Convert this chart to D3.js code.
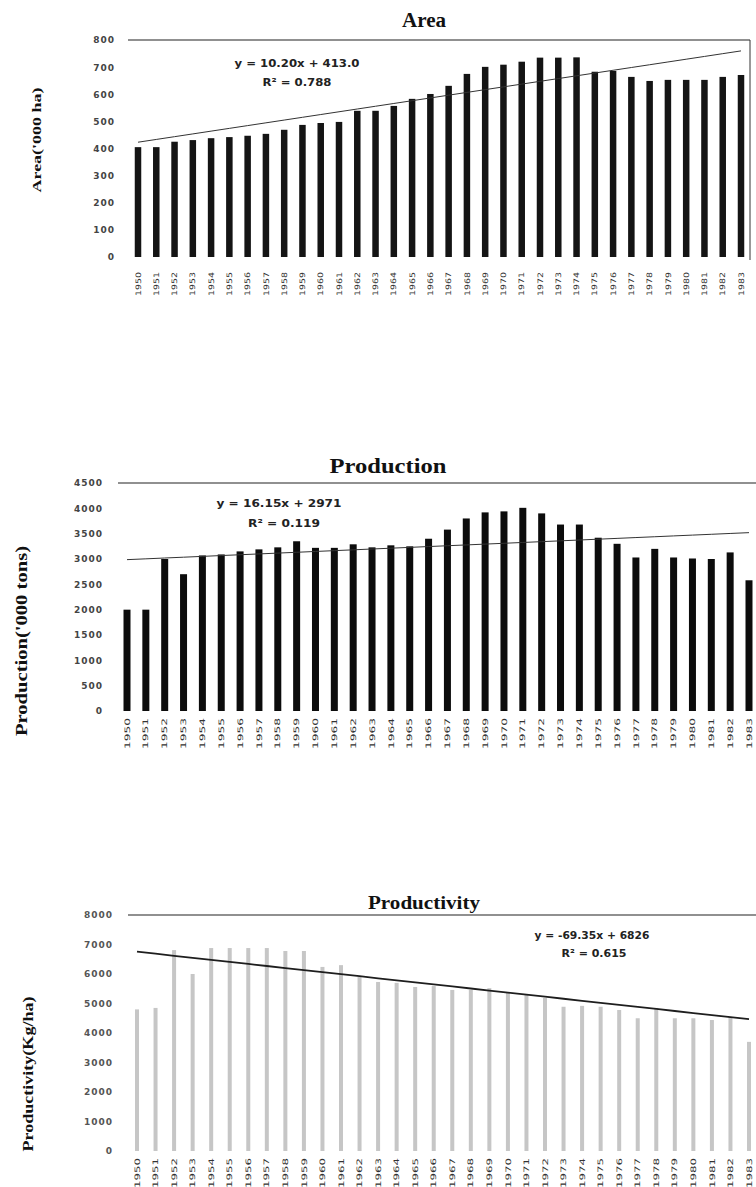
<!DOCTYPE html>
<html><head><meta charset="utf-8">
<script src="https://cdn.jsdelivr.net/npm/d3@7"></script>
<style>body{margin:0;background:#fff}</style>
</head><body>
<svg id="c" width="756" height="1187"></svg>
<script>
const years = [1950,1951,1952,1953,1954,1955,1956,1957,1958,1959,1960,1961,1962,1963,1964,1965,1966,1967,1968,1969,1970,1971,1972,1973,1974,1975,1976,1977,1978,1979,1980,1981,1982,1983];
const area = [405,405,425,431,438,442,447,454,469,487,494,498,539,539,557,583,601,631,675,701,709,720,735,735,736,683,686,664,649,653,653,653,664,671];
const production = [2000,2000,3000,2700,3070,3090,3150,3190,3230,3350,3220,3220,3290,3230,3270,3250,3400,3580,3800,3920,3940,4010,3900,3680,3680,3420,3300,3030,3200,3030,3010,3000,3130,2580];
const productivity = [4800,4850,6810,6000,6880,6880,6880,6880,6780,6780,6240,6300,5900,5730,5700,5560,5590,5460,5460,5520,5360,5290,5190,4890,4920,4890,4780,4500,4850,4500,4500,4440,4540,3700];
const areaTicks = [0,100,200,300,400,500,600,700,800];
const productionTicks = [0,500,1000,1500,2000,2500,3000,3500,4000,4500];
const productivityTicks = [0,1000,2000,3000,4000,5000,6000,7000,8000];
const titles = ["Area","Production","Productivity"];
const yLabels = ["Area('000 ha)","Production('000 tons)","Productivity(Kg/ha)"];
const trendSlope = [10.20,16.15,-69.35];
const trendIntercept = [413.0,2971,6826];
const eqTexts = ["y = 10.20x + 413.0","y = 16.15x + 2971","y = -69.35x + 6826"];
const r2Texts = ["R² = 0.788","R² = 0.119","R² = 0.615"];

const svg = d3.select("#c");

const panels = [
  {values: area, ticks: areaTicks, max: 800, yR: [257,40], xR: [138,741], barW: 6.5, barColor: "#141414",
   line: [128,750], rightBorder: true, tickX: 115, tickColor: "#444",
   title: {x: 424, y: 27, size: 20, len: 44},
   ylab: {x: 36, y: 140, size: 13, len: 105},
   xlab: {top: 272, len: 24},
   eq: {x: 297, y: 67, len: 125}, r2: {x: 297, y: 86, len: 69},
   trendColor: "#333", trendW: 1},
  {values: production, ticks: productionTicks, max: 4500, yR: [711,483], xR: [127,749], barW: 7, barColor: "#0c0c0c",
   line: [118,756], rightBorder: false, tickX: 103, tickColor: "#444",
   title: {x: 388, y: 473, size: 21, len: 117},
   ylab: {x: 21, y: 641, size: 16, len: 190},
   xlab: {top: 718, len: 31},
   eq: {x: 279, y: 507, len: 125}, r2: {x: 284, y: 527, len: 72},
   trendColor: "#333", trendW: 1},
  {values: productivity, ticks: productivityTicks, max: 8000, yR: [1151,915], xR: [137,749], barW: 4, barColor: "#c6c6c6",
   line: [128,756], rightBorder: false, tickX: 113, tickColor: "#555",
   title: {x: 424, y: 909, size: 18, len: 112},
   ylab: {x: 28, y: 1074, size: 14, len: 155},
   xlab: {top: 1158, len: 30},
   eq: {x: 592, y: 939, len: 115}, r2: {x: 594, y: 957, len: 65},
   trendColor: "#1e1e1e", trendW: 1.8}
];

panels.forEach((p, k) => {
  const g = svg.append("g");
  const x = d3.scalePoint().domain(years).range(p.xR);
  const y = d3.scaleLinear().domain([0, p.max]).range(p.yR);

  g.append("line").attr("x1", p.line[0]).attr("x2", p.line[1])
    .attr("y1", y(p.max)).attr("y2", y(p.max)).attr("stroke", "#222").attr("stroke-width", 1.2);
  if (p.rightBorder) {
    g.append("line").attr("x1", p.line[1]).attr("x2", p.line[1])
      .attr("y1", y(p.max)).attr("y2", y(0) + 3).attr("stroke", "#333").attr("stroke-width", 1);
  }

  const ax = d3.axisLeft(y).tickValues(p.ticks).tickSize(0).tickPadding(0).tickFormat(d3.format("d"));
  const ag = g.append("g").attr("transform", `translate(${p.tickX},0)`).call(ax);
  ag.select(".domain").remove();
  ag.selectAll("text").attr("font-family", "DejaVu Sans").attr("font-size", 9)
    .attr("font-weight", "bold").attr("fill", p.tickColor).attr("letter-spacing", 1)
    .attr("text-anchor", "end");

  g.selectAll("rect.bar").data(p.values).enter().append("rect")
    .attr("class", "bar")
    .attr("x", (d, i) => x(years[i]) - p.barW / 2)
    .attr("width", p.barW)
    .attr("y", d => y(d))
    .attr("height", d => y(0) - y(d))
    .attr("fill", p.barColor);

  const trend = years.map((yr, i) => [x(yr), y(trendIntercept[k] + trendSlope[k] * (i + 1))]);
  g.append("path").attr("d", d3.line()(trend)).attr("fill", "none")
    .attr("stroke", p.trendColor).attr("stroke-width", p.trendW);

  g.selectAll("text.xl").data(years).enter().append("text")
    .attr("class", "xl")
    .attr("transform", d => `translate(${x(d)},${p.xlab.top}) rotate(-90)`)
    .attr("text-anchor", "end").attr("dy", "0.35em")
    .attr("font-family", "DejaVu Sans").attr("font-size", 7.5).attr("fill", "#333")
    .attr("textLength", p.xlab.len).attr("lengthAdjust", "spacingAndGlyphs")
    .text(d => d);

  g.append("text").attr("x", p.title.x).attr("y", p.title.y).attr("text-anchor", "middle")
    .attr("font-family", "Liberation Serif").attr("font-weight", "bold").attr("font-size", p.title.size)
    .attr("fill", "#111").attr("textLength", p.title.len).attr("lengthAdjust", "spacingAndGlyphs")
    .text(titles[k]);

  g.append("text").attr("transform", `translate(${p.ylab.x},${p.ylab.y}) rotate(-90)`)
    .attr("text-anchor", "middle").attr("dy", "0.35em")
    .attr("font-family", "Liberation Serif").attr("font-weight", "bold").attr("font-size", p.ylab.size)
    .attr("fill", "#111").attr("textLength", p.ylab.len).attr("lengthAdjust", "spacingAndGlyphs")
    .text(yLabels[k]);

  g.append("text").attr("x", p.eq.x).attr("y", p.eq.y).attr("text-anchor", "middle")
    .attr("font-family", "DejaVu Sans").attr("font-weight", "bold").attr("font-size", 10.5)
    .attr("fill", "#222").attr("textLength", p.eq.len).attr("lengthAdjust", "spacingAndGlyphs")
    .text(eqTexts[k]);
  g.append("text").attr("x", p.r2.x).attr("y", p.r2.y).attr("text-anchor", "middle")
    .attr("font-family", "DejaVu Sans").attr("font-weight", "bold").attr("font-size", 10.5)
    .attr("fill", "#222").attr("textLength", p.r2.len).attr("lengthAdjust", "spacingAndGlyphs")
    .text(r2Texts[k]);
});
</script>
</body></html>
